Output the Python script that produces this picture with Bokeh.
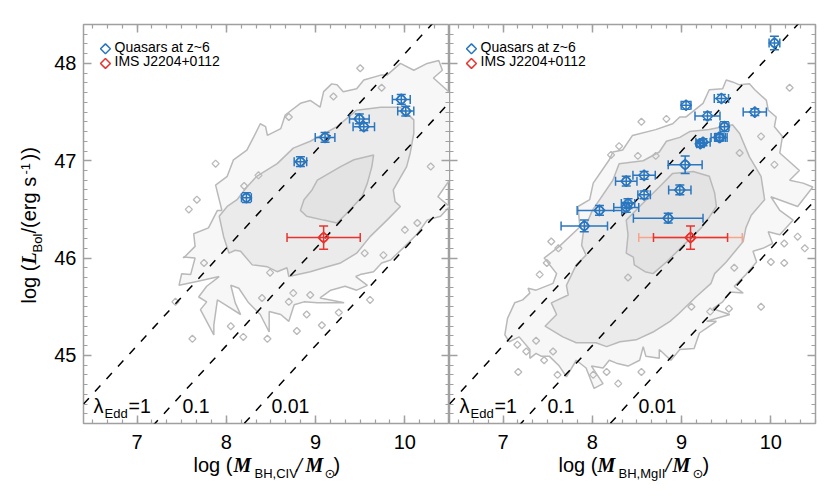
from bokeh.plotting import figure
from bokeh.layouts import row
from bokeh.embed import file_html
from bokeh.resources import INLINE
from bokeh.models import Label, LinearAxis, FixedTicker, Range1d
import math

X_RANGE = (6.4, 10.5)
Y_RANGE = (44.3, 48.4)
x_ticks = [7, 8, 9, 10]
y_ticks = [45, 46, 47, 48]

edd_x = [6.4, 10.5]
edd_1 = [44.5, 48.6]
edd_01 = [43.5, 47.6]
edd_001 = [42.5, 46.6]

# left panel points: x, y, xerr, yerr
civ_x = [8.225, 8.83, 9.106, 9.49, 9.54, 9.96, 10.01]
civ_y = [46.62, 46.99, 47.24, 47.43, 47.35, 47.63, 47.51]
civ_xe = [0.055, 0.07, 0.11, 0.11, 0.12, 0.10, 0.09]
civ_ye = [0.05, 0.05, 0.05, 0.05, 0.04, 0.05, 0.05]

# right panel points with a circle
mg_x = [10.04, 9.48, 9.42, 9.43, 9.24, 9.21, 9.04, 8.38, 8.98, 8.40, 8.38, 8.08, 8.85, 7.91]
mg_y = [48.21, 47.35, 47.24, 47.24, 47.19, 47.175, 46.96, 46.79, 46.70, 46.56, 46.52, 46.49, 46.41, 46.33]
mg_xe = [0.06, 0.05, 0.09, 0.06, 0.08, 0.04, 0.19, 0.12, 0.125, 0.075, 0.14, 0.25, 0.39, 0.26]
mg_ye = [0.07, 0.05, 0.04, 0.035, 0.035, 0.035, 0.09, 0.05, 0.05, 0.05, 0.05, 0.05, 0.05, 0.06]
# right panel points, diamond only
mgd_x = [9.446, 9.05, 9.29, 9.82, 8.58, 8.58]
mgd_y = [47.64, 47.57, 47.46, 47.50, 46.85, 46.65]
mgd_xe = [0.08, 0.055, 0.14, 0.13, 0.125, 0.07]
mgd_ye = [0.04, 0.04, 0.04, 0.035, 0.04, 0.04]

ims_civ = (9.09, 46.21, 0.41, 0.12)
ims_mg = (9.10, 46.21, 0.415, 0.12)
ims_mg_outer_xe = 0.58

civ_outer = [(7.52,46.0),(7.65,46.12),(7.635,46.25),(7.80,46.31),(7.90,46.49),(7.95,46.49),(7.88,46.75),(8.01,46.84),
 (8.08,47.01),(8.23,47.11),(8.31,47.25),(8.38,47.38),(8.44,47.35),(8.46,47.26),(8.61,47.33),(8.66,47.47),(8.83,47.59),
 (8.94,47.62),(9.05,47.55),(9.09,47.71),(9.18,47.79),(9.24,47.78),(9.31,47.71),(9.46,47.74),(9.54,47.83),(9.73,47.88),
 (9.80,47.88),(9.95,48.0),(10.10,47.93),(10.25,48.0),(10.38,48.03),(10.42,47.93),(10.32,47.85),(10.43,47.76),(10.55,47.66),
 (10.6,47.4),(10.6,46.8),(10.5,46.8),(10.37,46.63),(10.5,46.53),(10.4,46.43),(10.25,46.39),(10.14,46.25),(10.0,46.12),
 (9.84,45.98),(9.74,45.95),(9.65,45.86),(9.50,45.83),(9.45,45.81),(9.58,45.72),(9.46,45.67),(9.33,45.71),(9.17,45.67),
 (9.05,45.59),(9.32,45.54),(9.02,45.54),(8.87,45.55),(8.76,45.52),(8.70,45.35),(8.61,45.42),(8.48,45.45),(8.48,45.24),
 (8.38,45.42),(8.25,45.54),(8.14,45.69),(8.05,45.72),(8.10,45.54),(8.16,45.42),(7.99,45.52),(7.90,45.57),(7.86,45.31),
 (7.86,45.21),(7.71,45.47),(7.78,45.55),(7.69,45.60),(7.78,45.71),(7.92,45.81),(7.67,45.76),(7.47,45.72),(7.50,45.84),
 (7.60,45.83),(7.65,46.0),(7.52,46.01)]
civ_mid = [(7.92,46.43),(8.01,46.53),(8.12,46.60),(8.23,46.73),(8.34,46.84),(8.57,46.97),(8.75,47.13),(8.94,47.20),
 (9.24,47.35),(9.46,47.52),(9.73,47.55),(9.95,47.55),(10.10,47.42),(10.10,47.28),(10.06,47.08),(10.02,46.94),(9.87,46.70),
 (9.89,46.58),(9.95,46.53),(9.80,46.39),(9.61,46.22),(9.46,46.05),(9.28,45.95),(9.13,45.91),(8.94,45.86),(8.70,45.81),
 (8.68,45.90),(8.57,45.86),(8.46,45.91),(8.29,45.93),(8.16,46.07),(8.10,46.08),(8.03,46.05),(7.97,46.22)]
civ_inner = [(9.65,47.06),(9.43,47.01),(9.28,46.94),(9.15,46.87),(9.02,46.80),(8.96,46.70),(8.87,46.60),(8.83,46.49),
 (8.90,46.43),(9.09,46.39),(9.24,46.36),(9.35,46.46),(9.52,46.63),(9.58,46.77),(9.63,46.94)]
civ_isl_x = [7.88,7.67,7.58,8.20,8.36,8.70,9.20,9.50,9.74,10.29,8.94,8.75,8.40,8.49,8.70,8.90,9.26,9.07,8.79,8.46,8.19,8.05,7.62,7.43,7.75,9.61,9.76,10.0,10.14,9.55]
civ_isl_y = [46.97,46.60,46.50,46.74,46.85,47.45,47.66,47.95,47.75,46.94,45.62,45.64,45.59,45.85,45.55,45.42,45.44,45.31,45.25,45.17,45.19,45.30,45.17,45.55,45.95,45.57,46.03,46.29,46.36,46.05]

mg_outer = [(7.46,46.0),(7.63,46.12),(7.86,46.32),(7.84,46.53),(7.97,46.60),(8.01,46.77),(8.19,47.01),(8.23,47.09),
 (8.34,47.11),(8.45,47.26),(8.71,47.32),(8.90,47.38),(8.98,47.45),(9.05,47.45),(9.24,47.59),(9.31,47.73),(9.46,47.74),
 (9.50,47.83),(9.57,47.81),(9.65,47.78),(9.76,47.79),(9.82,47.73),(9.95,47.62),(9.97,47.52),(10.06,47.45),(10.04,47.35),
 (10.13,47.25),(10.10,47.08),(10.32,46.90),(10.21,46.80),(10.36,46.77),(10.47,46.73),(10.30,46.53),(10.0,46.63),(10.10,46.49),
 (10.25,46.39),(10.10,46.24),(9.97,46.27),(10.02,46.15),(9.91,46.10),(9.80,46.07),(9.84,45.96),(9.72,45.83),(9.59,45.71),
 (9.69,45.64),(9.54,45.65),(9.46,45.55),(9.35,45.48),(9.54,45.42),(9.28,45.35),(9.39,45.35),(9.28,45.28),(9.20,45.23),
 (9.14,45.07),(8.98,45.06),(8.88,44.95),(8.75,45.06),(8.75,44.97),(8.60,44.99),(8.57,45.09),(8.53,44.95),(8.40,44.89),
 (8.27,44.92),(8.19,44.95),(8.12,44.87),(7.99,44.89),(8.12,44.71),(8.02,44.66),(7.93,44.87),(7.82,44.95),(7.71,44.78),
 (7.63,44.89),(7.52,44.99),(7.43,44.99),(7.37,45.02),(7.30,44.97),(7.30,45.06),(7.18,45.19),(7.07,45.14),(7.02,45.21),
 (7.05,45.38),(7.13,45.54),(7.22,45.57),(7.30,45.64),(7.28,45.69),(7.37,45.67),(7.56,45.74),(7.60,45.84),(7.48,45.98)]
mg_mid = [(7.47,45.30),(7.60,45.42),(7.54,45.54),(7.73,45.62),(7.71,45.72),(7.82,45.93),(7.93,46.03),(7.88,46.13),(7.90,46.27),
 (8.0,46.49),(8.23,46.80),(8.30,46.97),(8.57,47.0),(8.75,47.09),(8.83,47.2),(8.98,47.24),(9.09,47.30),(9.31,47.32),(9.57,47.37),
 (9.65,47.28),(9.76,47.04),(9.89,46.84),(9.93,46.60),(9.78,46.44),(9.72,46.31),(9.69,46.17),(9.50,45.96),(9.37,45.84),(9.33,45.74),
 (9.16,45.60),(8.97,45.43),(8.87,45.35),(8.68,45.24),(8.49,45.16),(8.31,45.14),(8.16,45.09),(8.04,45.13),(7.82,45.13),(7.67,45.19)]
mg_inner = [(8.38,46.39),(8.53,46.53),(8.75,46.73),(8.90,46.87),(9.13,46.89),(9.31,46.84),(9.37,46.67),(9.39,46.53),(9.31,46.42),
 (9.22,46.31),(9.02,46.13),(8.83,45.96),(8.68,45.84),(8.59,45.86),(8.47,45.93),(8.46,46.01),(8.38,46.05),(8.40,46.24)]
mg_isl_x = [10.21,8.83,8.55,8.30,8.51,8.71,8.21,9.89,9.65,10.04,7.49,7.41,7.54,7.62,10.0,10.15,10.38,10.30,10.15,9.89,9.32,9.59,8.40,7.37,7.26,7.56,7.16,7.46,7.17,7.61,8.01,8.16,8.29,8.55,9.11,9.53]
mg_isl_y = [47.75,47.43,47.40,47.15,47.05,47.05,47.06,47.25,47.08,46.96,45.95,45.83,46.17,46.10,45.96,46.15,46.10,46.22,45.95,45.50,45.45,45.90,45.80,45.15,45.04,45.04,45.11,44.95,44.83,44.80,44.80,44.83,44.71,44.83,45.50,45.48]

legend_y = [48.15, 48.0]
legend_x = 6.646

BLUE = "#2a76bf"
RED = "#e8332e"
SALMON = "#f8a48c"
GRAY = "#a0a0a0"
CONTOUR = "#b9b9b9"
SANS = "Liberation Sans"
SERIF = "Liberation Serif"
Q45 = math.pi / 4
BASE_SHIFT = 0.42

FRAME_W, FRAME_H = 366, 399


def make_fig(left_border, right_border):
    p = figure(width=left_border + FRAME_W + right_border, height=485, output_backend="svg", toolbar_location=None,
               x_range=Range1d(*X_RANGE), y_range=Range1d(*Y_RANGE), x_axis_location=None, y_axis_location=None,
               min_border_left=left_border, min_border_right=right_border, min_border_top=24, min_border_bottom=62,
               frame_width=FRAME_W, frame_height=FRAME_H)
    p.grid.visible = False
    p.outline_line_color = GRAY
    p.outline_line_width = 1.5
    return p


def style_axis(ax, major, minor, labelled, standoff):
    ax.ticker = FixedTicker(ticks=major, minor_ticks=minor)
    ax.axis_line_color = None
    ax.major_tick_line_color = GRAY
    ax.minor_tick_line_color = GRAY
    ax.major_tick_line_width = 1.5
    ax.minor_tick_line_width = 1.2
    ax.major_tick_in = 8
    ax.major_tick_out = 0
    ax.minor_tick_in = 4
    ax.minor_tick_out = 0
    ax.major_label_standoff = standoff if labelled else 0
    ax.axis_label_standoff = 0
    if labelled:
        ax.major_label_text_font = SANS
        ax.major_label_text_font_size = "20px"
        ax.major_label_text_color = "black"
    else:
        ax.major_label_text_font_size = "0px"
        ax.major_label_text_color = None


x_minor = [round(7 + i / 6, 4) for i in range(-3, 22)]
y_minor = [round(44.3 + i * 0.1, 2) for i in range(0, 42)]


def add_axes(p, left_labelled):
    for side, major, minor, lab in [("below", x_ticks, x_minor, True), ("above", x_ticks, x_minor, False),
                                    ("left", y_ticks, y_minor, left_labelled), ("right", y_ticks, y_minor, False)]:
        ax = LinearAxis()
        style_axis(ax, major, minor, lab, 11 if side == "below" else 7)
        p.add_layout(ax, side)


def text(p, px, py, s, size, font=SANS, style="normal", angle=0.0, off=0.0, outside=False):
    # px, py: position of the text's start and baseline on the page
    if angle:
        px -= BASE_SHIFT * size
    else:
        py -= BASE_SHIFT * size
    lab = Label(x=px - off, y=py, x_units="canvas", y_units="canvas", text=s, text_font=font,
                text_font_size=f"{size}px", text_font_style=style, text_align="left",
                text_baseline="alphabetic", text_color="black", angle=angle)
    if outside:
        p.add_layout(lab, "below")
    else:
        p.add_layout(lab)


def draw_panel(p, outer, mid, inner, isl_x, isl_y):
    for poly, fill in [(outer, "#f7f7f7"), (mid, "#ebebeb"), (inner, "#e3e3e3")]:
        xs = [a for a, _ in poly] + [poly[0][0]]
        ys = [b for _, b in poly] + [poly[0][1]]
        p.patch(xs, ys, fill_color=fill, line_color=CONTOUR, line_width=1.5)
    p.scatter(isl_x, isl_y, marker="square", angle=Q45, size=5, fill_color=None, line_color=CONTOUR, line_width=1.3)
    for ys in (edd_1, edd_01, edd_001):
        p.line(edd_x, ys, line_color="black", line_width=1.5, line_dash="8 9")


def errs(p, xs, ys, xe, ye, color, circle=True, marks=True):
    xl = [a - b for a, b in zip(xs, xe)]
    xu = [a + b for a, b in zip(xs, xe)]
    yl = [a - b for a, b in zip(ys, ye)]
    yu = [a + b for a, b in zip(ys, ye)]
    p.segment(xl, ys, xu, ys, line_color=color, line_width=1.5)
    p.scatter(xl + xu, ys + ys, marker="dash", angle=math.pi / 2, size=9, line_color=color, line_width=1.5)
    if marks:
        p.segment(xs, yl, xs, yu, line_color=color, line_width=1.5)
        p.scatter(xs + xs, yl + yu, marker="dash", size=9, line_color=color, line_width=1.5)
        p.scatter(xs, ys, marker="square", angle=Q45, size=7.5, fill_color=None, line_color=color, line_width=1.5)
        if circle:
            p.scatter(xs, ys, marker="circle", size=8, fill_color=None, line_color=color, line_width=1.5)


def legend(p):
    p.scatter([legend_x], [legend_y[0]], marker="square", angle=Q45, size=7, fill_color=None, line_color=BLUE, line_width=1.5)
    p.scatter([legend_x], [legend_y[1]], marker="square", angle=Q45, size=7, fill_color=None, line_color=RED, line_width=1.5)


left = make_fig(83, 0)
add_axes(left, True)
draw_panel(left, civ_outer, civ_mid, civ_inner, civ_isl_x, civ_isl_y)
errs(left, civ_x, civ_y, civ_xe, civ_ye, BLUE)
errs(left, [ims_civ[0]], [ims_civ[1]], [ims_civ[2]], [ims_civ[3]], RED)
legend(left)

FR = 449
right = make_fig(0, 10)
add_axes(right, False)
draw_panel(right, mg_outer, mg_mid, mg_inner, mg_isl_x, mg_isl_y)
errs(right, [ims_mg[0]], [ims_mg[1]], [ims_mg_outer_xe], [0.0], SALMON, marks=False)
errs(right, mg_x, mg_y, mg_xe, mg_ye, BLUE)
errs(right, mgd_x, mgd_y, mgd_xe, mgd_ye, BLUE, circle=False)
errs(right, [ims_mg[0]], [ims_mg[1]], [ims_mg[2]], [ims_mg[3]], RED)
legend(right)

# in-frame texts
for p, off, tx, lx, ex, eqx, x01, x001 in [(left, 0, 114, 93, 104, 128, 182, 271), (right, FR, 480, 459, 470, 494, 547, 638)]:
    text(p, tx, 52.7, "Quasars at z~6", 14, off=off)
    text(p, tx, 66.7, "IMS J2204+0112", 14, off=off)
    text(p, lx, 414, "λ", 20, off=off)
    text(p, ex, 418, "Edd", 13, off=off)
    text(p, eqx, 414, "=1", 19.5, off=off)
    text(p, x01, 414, "0.1", 19.5, off=off)
    text(p, x001, 414, "0.01", 19.5, off=off)

# x axis titles, assembled from pieces
O = dict(outside=True)
text(left, 193, 473, "log (", 20, **O)
text(left, 233, 473, "M", 20, SERIF, "bold italic", **O)
text(left, 254, 478, "BH,CIV", 13, **O)
text(left, 296, 473, "/", 20, SERIF, "bold italic", **O)
text(left, 305, 473, "M", 20, SERIF, "bold italic", **O)
text(left, 324, 478, "⊙", 13, "DejaVu Sans", **O)
text(left, 333, 473, ")", 20, **O)

text(right, 558, 473, "log (", 20, off=FR, **O)
text(right, 597, 473, "M", 20, SERIF, "bold italic", off=FR, **O)
text(right, 618, 478, "BH,MgII", 13, off=FR, **O)
text(right, 665, 473, "/", 20, SERIF, "bold italic", off=FR, **O)
text(right, 672, 473, "M", 20, SERIF, "bold italic", off=FR, **O)
text(right, 692, 478, "⊙", 13, "DejaVu Sans", off=FR, **O)
text(right, 702, 473, ")", 20, off=FR, **O)

# y axis title, rotated
A = math.pi / 2
text(left, 37, 303, "log (", 20, angle=A, **O)
text(left, 37, 264, "L", 20, SERIF, "bold italic", angle=A, **O)
text(left, 42, 252, "Bol", 13, angle=A, **O)
text(left, 37, 233, "/(erg s", 20, angle=A, **O)
text(left, 30, 174, "-1", 13, angle=A, **O)
text(left, 37, 160, "))", 20, angle=A, **O)

page = row(left, right, spacing=0)
open("out.html", "w").write(file_html(page, INLINE))
